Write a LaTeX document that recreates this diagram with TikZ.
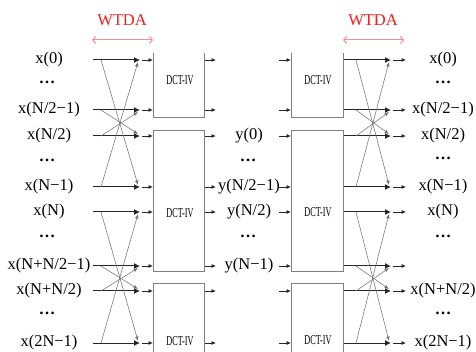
\documentclass[tikz,border=0pt]{standalone}
\usepackage{fontspec}
\setmainfont{Liberation Serif}
\usetikzlibrary{arrows.meta}
\begin{document}
\begin{tikzpicture}[x=1pt,y=-1pt,
  lbl/.style={font=\fontsize{16.5}{18}\selectfont, inner sep=0pt, anchor=center},
  dotlbl/.style={font=\fontsize{16.5}{18}\selectfont\bfseries, inner sep=0pt, anchor=center},
  hline/.style={draw=black!85, line width=1pt, -{Latex[length=6pt,width=6pt]}},
  sarr/.style={draw=black!85, line width=0.8pt, shorten <=2pt, -{Latex[length=4.5pt,width=4pt]}},
  oarr/.style={draw=black!85, line width=0.8pt, -{Latex[length=4.5pt,width=4pt]}},
  dline/.style={draw=black!55, line width=0.55pt, -{Latex[length=4.5pt,width=3.5pt]}},
  dctbox/.style={draw=black!50, line width=0.8pt},
  wtda/.style={font=\fontsize{16.5}{18}\selectfont, text=red!90, inner sep=0pt},
  warr/.style={draw=red!45, line width=1pt, {Straight Barb[length=3pt,width=7pt]}-{Straight Barb[length=3pt,width=7pt]}},
  dct/.style={font=\fontsize{13.5}{14}\selectfont, inner sep=0pt}]
\useasboundingbox (0,0) rectangle (476,352);

% WTDA labels and arrows
\node[wtda] (w1) at (122,20) {WTDA};
\node[wtda] (w2) at (373,20) {WTDA};
\coordinate (w1a) at (92,40);  \coordinate (w1b) at (153,40);
\coordinate (w2a) at (343,40); \coordinate (w2b) at (404,40);
\draw[warr] (w1a) -- (w1b);
\draw[warr] (w2a) -- (w2b);

% row coordinates
\foreach \i/\y in {1/60,2/110,3/136,4/187,5/212,6/266,7/291,8/343}{
  \coordinate (La\i) at (93,\y);
  \coordinate (Lb\i) at (140,\y);
  \coordinate (Lc\i) at (153,\y);
  \coordinate (Ld\i) at (204,\y);
  \coordinate (Le\i) at (216,\y);
  \coordinate (Ra\i) at (279,\y);
  \coordinate (Rb\i) at (291,\y);
  \coordinate (Rc\i) at (343,\y);
  \coordinate (Rd\i) at (391,\y);
  \coordinate (Re\i) at (406,\y);
  \coordinate (Lx\i) at (101,\y);
  \coordinate (Rx\i) at (356,\y);
  \draw[hline] (La\i) -- (Lb\i);
  \draw[sarr] (Lb\i) -- (Lc\i);
  \draw[oarr] (Ld\i) -- (Le\i);
  \draw[oarr] (Ra\i) -- (Rb\i);
  \draw[hline] (Rc\i) -- (Rd\i);
  \draw[sarr] (Rd\i) -- (Re\i);
}

% butterfly diagonals
\foreach \a/\b in {1/4,2/3,5/8,6/7}{
  \draw[dline] (Lx\a) -- ([shift={(-2,-2)}]Lb\b);
  \draw[dline] (Lx\b) -- ([shift={(-2,2)}]Lb\a);
  \draw[dline] (Rx\a) -- ([shift={(-2,-2)}]Rd\b);
  \draw[dline] (Rx\b) -- ([shift={(-2,2)}]Rd\a);
}

% DCT-IV boxes (left)
\draw[dctbox] (153,53) -- (153,117) -- (204,117) -- (204,53);
\draw[dctbox] (153,130) rectangle (204,271);
\draw[dctbox] (153,353) -- (153,283) -- (204,283) -- (204,353);
% DCT-IV boxes (right)
\draw[dctbox] (291,53) -- (291,117) -- (343,117) -- (343,53);
\draw[dctbox] (291,130) rectangle (343,271);
\draw[dctbox] (291,353) -- (291,283) -- (343,283) -- (343,353);

\node[dct] (d1) at (180,80) {\scalebox{0.61}[1]{DCT-IV}};
\node[dct] (d2) at (180,213) {\scalebox{0.61}[1]{DCT-IV}};
\node[dct] (d3) at (180,341) {\scalebox{0.61}[1]{DCT-IV}};
\node[dct] (d4) at (318,80) {\scalebox{0.61}[1]{DCT-IV}};
\node[dct] (d5) at (318,212) {\scalebox{0.61}[1]{DCT-IV}};
\node[dct] (d6) at (318,340) {\scalebox{0.61}[1]{DCT-IV}};

% left labels
\node[lbl] (l1) at (49,60) {x(0)};
\node[dotlbl] (l1d) at (47,82) {…};
\node[lbl] (l2) at (49,110) {x(N/2−1)};
\node[lbl] (l3) at (49,136) {x(N/2)};
\node[dotlbl] (l3d) at (47,160) {…};
\node[lbl] (l4) at (49,187) {x(N−1)};
\node[lbl] (l5) at (49,212) {x(N)};
\node[dotlbl] (l5d) at (47,236) {…};
\node[lbl] (l6) at (49,266) {x(N+N/2−1)};
\node[lbl] (l7) at (49,291) {x(N+N/2)};
\node[dotlbl] (l7d) at (47,313) {…};
\node[lbl] (l8) at (49,343) {x(2N−1)};

% middle labels
\node[lbl] (m3) at (249,136) {y(0)};
\node[dotlbl] (m3d) at (248,160) {…};
\node[lbl] (m4) at (249,187) {y(N/2−1)};
\node[lbl] (m5) at (249,212) {y(N/2)};
\node[dotlbl] (m5d) at (248,236) {…};
\node[lbl] (m6) at (249,266) {y(N−1)};

% right labels
\node[lbl] (r1) at (443,60) {x(0)};
\node[dotlbl] (r1d) at (443,82) {…};
\node[lbl] (r2) at (443,110) {x(N/2−1)};
\node[lbl] (r3) at (443,136) {x(N/2)};
\node[dotlbl] (r3d) at (443,158) {…};
\node[lbl] (r4) at (443,187) {x(N−1)};
\node[lbl] (r5) at (443,212) {x(N)};
\node[dotlbl] (r5d) at (443,236) {…};
\node[lbl] (r7) at (443,291) {x(N+N/2)};
\node[dotlbl] (r7d) at (443,313) {…};
\node[lbl] (r8) at (443,343) {x(2N−1)};
\end{tikzpicture}
\end{document}
